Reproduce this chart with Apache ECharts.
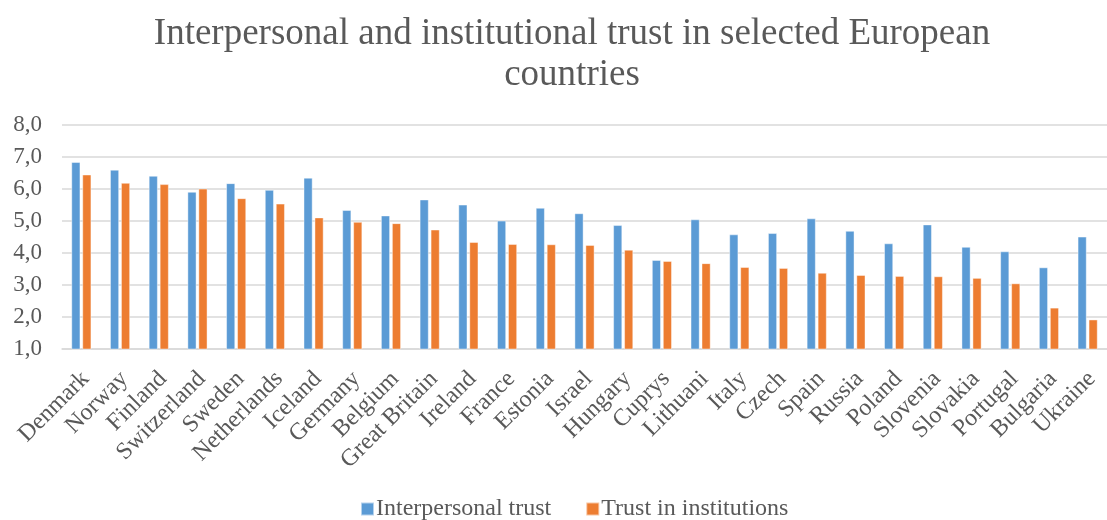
<!DOCTYPE html>
<html>
<head>
<meta charset="utf-8">
<script src="https://cdn.jsdelivr.net/npm/echarts@6/dist/echarts.min.js"></script>
<style>
  html, body { margin: 0; padding: 0; background: #fff; }
  #chart { width: 1107px; height: 520px; }
</style>
</head>
<body>
<div id="chart"></div>
<script>
// Countries in descending order of trust in institutions
const countries = [
  'Denmark', 'Norway', 'Finland', 'Switzerland', 'Sweden', 'Netherlands', 'Iceland',
  'Germany', 'Belgium', 'Great Britain', 'Ireland', 'France', 'Estonia', 'Israel',
  'Hungary', 'Cuprys', 'Lithuani', 'Italy', 'Czech', 'Spain', 'Russia', 'Poland',
  'Slovenia', 'Slovakia', 'Portugal', 'Bulgaria', 'Ukraine'
];

const interpersonalTrust = [
  6.84, 6.60, 6.41, 5.91, 6.18, 5.97, 6.35,
  5.34, 5.17, 5.67, 5.51, 5.01, 5.41, 5.24,
  4.87, 3.78, 5.05, 4.58, 4.62, 5.08, 4.69, 4.30,
  4.89, 4.19, 4.05, 3.55, 4.51
];

const trustInInstitutions = [
  6.45, 6.19, 6.15, 6.01, 5.71, 5.54, 5.11,
  4.97, 4.93, 4.73, 4.34, 4.28, 4.27, 4.25,
  4.10, 3.75, 3.68, 3.56, 3.53, 3.38, 3.31, 3.28,
  3.27, 3.22, 3.05, 2.29, 1.92
];

const seriesNames = ['Interpersonal trust', 'Trust in institutions'];
const yTicks = { min: 1, max: 8, interval: 1 };

const font = '"Liberation Serif", "Times New Roman", serif';
const textColor = '#595959';

const chart = echarts.init(document.getElementById('chart'));
chart.setOption({
  animation: false,
  color: ['#5B9BD5', '#ED7D31'],
  title: {
    text: 'Interpersonal and institutional trust in selected European\ncountries',
    left: 567,
    textAlign: 'center',
    top: 9,
    textStyle: {
      fontFamily: font,
      fontWeight: 'normal',
      fontSize: 37,
      lineHeight: 41,
      color: textColor
    }
  },
  legend: {
    top: 492,
    left: 355,
    itemWidth: 13,
    itemHeight: 13,
    itemGap: 34,
    icon: 'rect',
    textStyle: { fontFamily: font, fontSize: 24, color: textColor, padding: [0, 0, 0, -3] },
    data: seriesNames
  },
  grid: { left: 62, right: -7, top: 125, bottom: 171, containLabel: false },
  xAxis: {
    type: 'category',
    data: countries,
    axisLine: { lineStyle: { color: '#d9d9d9', width: 1.5 } },
    axisTick: { show: false },
    axisLabel: {
      interval: 0,
      rotate: 45,
      margin: 22,
      // an empty leading line nudges each slanted name slightly down-right
      formatter: name => '\n' + name,
      lineHeight: 12,
      fontFamily: font,
      fontSize: 24,
      color: textColor
    }
  },
  yAxis: {
    type: 'value',
    min: yTicks.min,
    max: yTicks.max,
    interval: yTicks.interval,
    axisLine: { show: false },
    axisTick: { show: false },
    splitLine: { lineStyle: { color: '#d9d9d9', width: 1.5 } },
    axisLabel: {
      margin: 20,
      fontFamily: font,
      fontSize: 23,
      color: textColor,
      formatter: v => v.toFixed(1).replace('.', ',')
    }
  },
  series: [
    {
      name: seriesNames[0],
      type: 'bar',
      data: interpersonalTrust,
      barWidth: 9,
      barGap: '22%',
      itemStyle: { borderColor: 'rgba(255,255,255,0.55)', borderWidth: 0.8 }
    },
    {
      name: seriesNames[1],
      type: 'bar',
      data: trustInInstitutions,
      barWidth: 9,
      itemStyle: { borderColor: 'rgba(255,255,255,0.55)', borderWidth: 0.8 }
    }
  ]
});
</script>
</body>
</html>
